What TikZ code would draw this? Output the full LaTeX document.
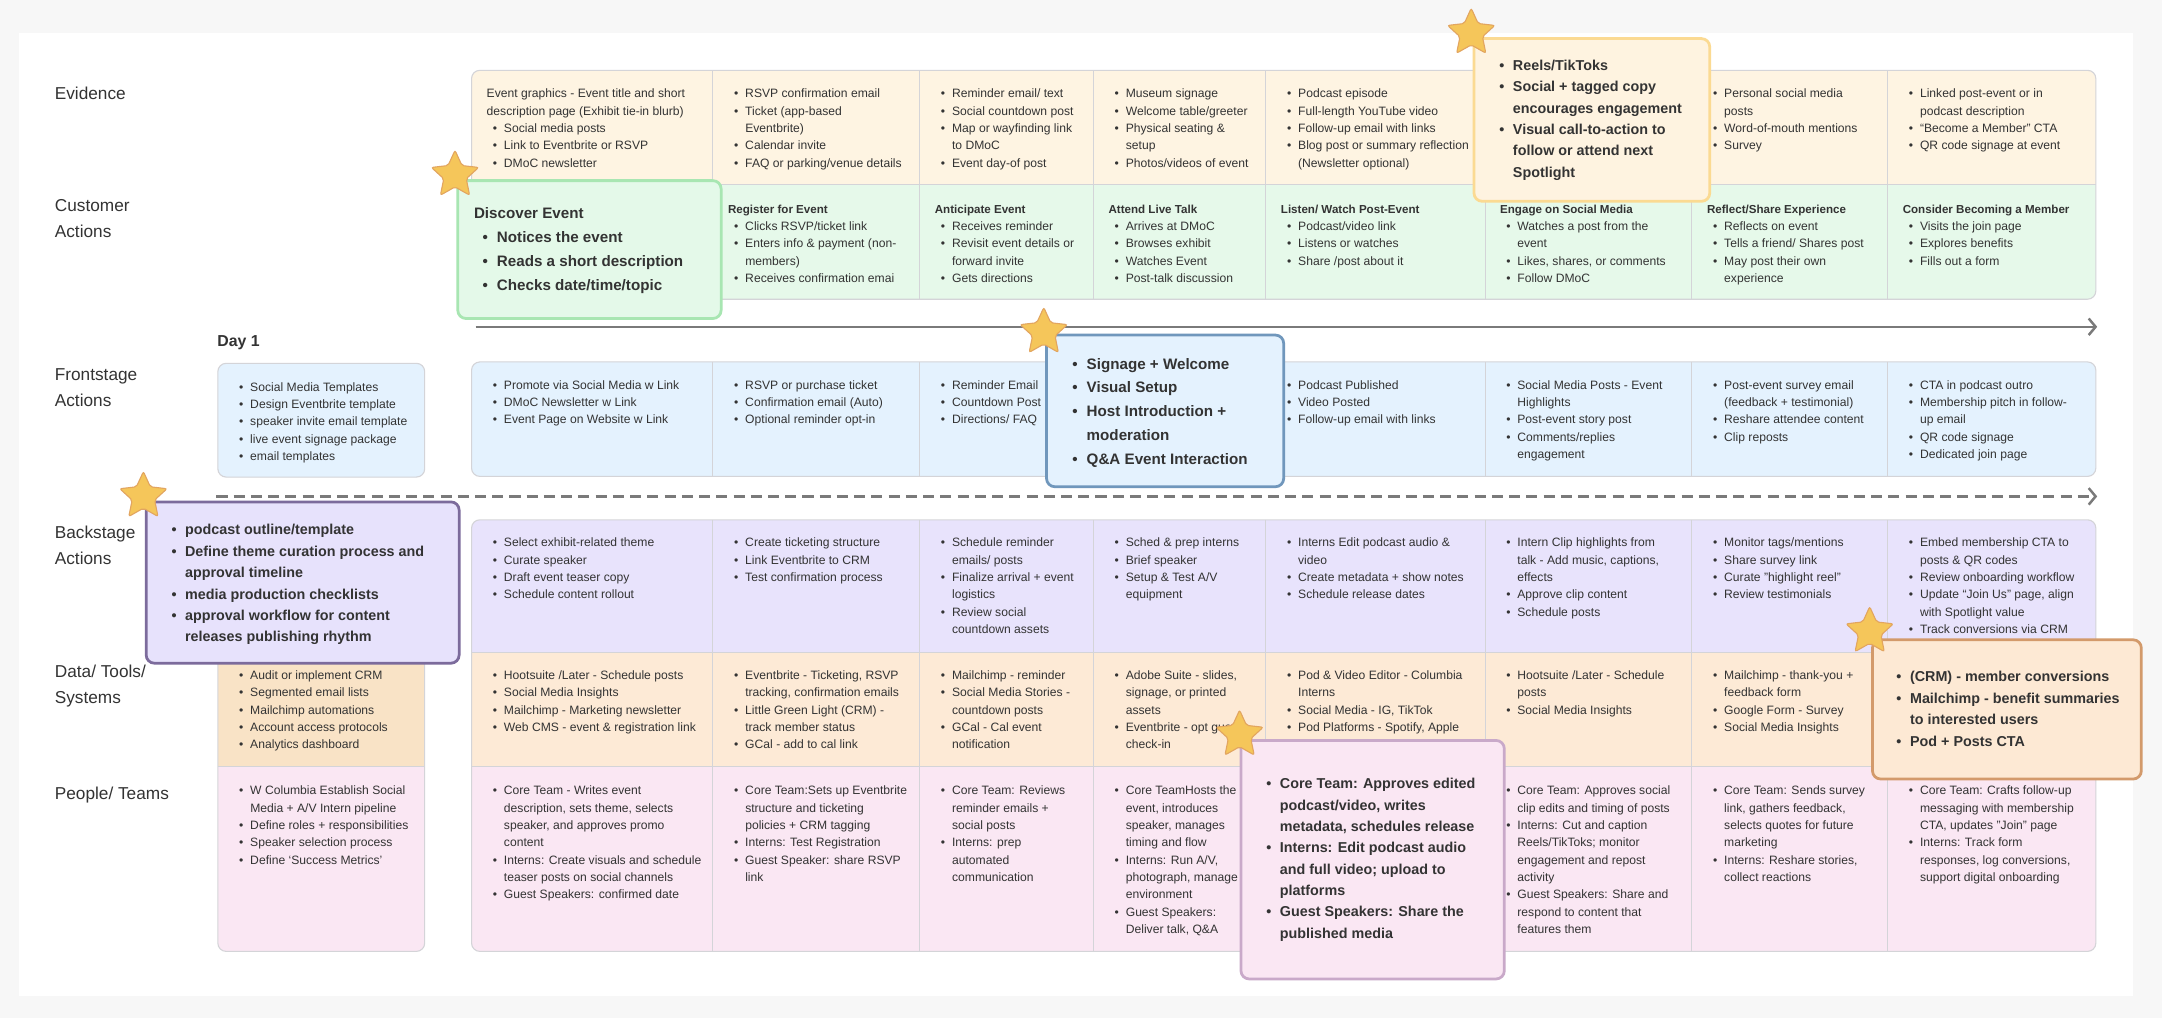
\documentclass[tikz,border=0pt]{standalone}
\usepackage{fontspec}
\setmainfont{Liberation Sans}
\usepackage{tikz}
\usetikzlibrary{arrows.meta,shapes.geometric,positioning}

\definecolor{pagegray}{HTML}{F7F7F7}
\definecolor{ink}{HTML}{333333}
\definecolor{gridline}{HTML}{D4D4D8}
\definecolor{evfill}{HTML}{FEF4E2}
\definecolor{cafill}{HTML}{E6F9EA}
\definecolor{fsfill}{HTML}{E4F2FE}
\definecolor{bsfill}{HTML}{E8E3FC}
\definecolor{dtfill}{HTML}{FDEAD6}
\definecolor{dtdayfill}{HTML}{F9E3C6}
\definecolor{ppfill}{HTML}{FAE7F3}
\definecolor{arrowgray}{HTML}{7A7A7A}
\definecolor{starfill}{HTML}{F5C65A}
\definecolor{starline}{HTML}{E2A560}
\definecolor{discfill}{HTML}{E4F9E9}
\definecolor{discline}{HTML}{A8E6B2}
\definecolor{reelfill}{HTML}{FEF3E0}
\definecolor{reelline}{HTML}{FBDA92}
\definecolor{signfill}{HTML}{E4F2FE}
\definecolor{signline}{HTML}{7097BC}
\definecolor{prepfill}{HTML}{E7E2FC}
\definecolor{prepline}{HTML}{7C6B9C}
\definecolor{teamfill}{HTML}{FAE7F3}
\definecolor{teamline}{HTML}{C9A9C9}
\definecolor{crmfill}{HTML}{FDE9D4}
\definecolor{crmline}{HTML}{D39A6B}

% fonts
\newcommand{\cellfnt}{\fontsize{8.8}{12.57}\selectfont}
\newcommand{\headfnt}{\fontsize{8.4}{12.57}\selectfont\bfseries}
\newcommand{\lblfnt}{\fontsize{12.5}{18.9}\selectfont}
\newcommand{\dayfnt}{\fontsize{11.5}{14}\selectfont\bfseries}
\newcommand{\bigfnt}{\fontsize{11}{17.2}\selectfont\bfseries}
\newcommand{\callfnt}{\fontsize{10.4}{15.5}\selectfont\bfseries}

% bullet lines
\newcommand{\itm}[1]{\strut\hspace*{.5em}\makebox[.92em][l]{\textbullet}#1}
\newcommand{\itc}[1]{\strut\hspace*{1.42em}#1}
\newcommand{\hdl}[1]{\strut{\headfnt #1}}
\newcommand{\citm}[1]{\strut\makebox[.95em][l]{\textbullet}#1}
\newcommand{\citc}[1]{\strut\hspace*{.95em}#1}

\begin{document}
\begin{tikzpicture}[
    x=1pt, y=-1pt,
    cellbox/.style={anchor=north west, inner sep=0pt, align=left, font=\cellfnt, text=ink},
    rowlabel/.style={anchor=north west, inner sep=0pt, align=left, font=\lblfnt, text=ink},
    daylabel/.style={anchor=base west, inner sep=0pt, font=\dayfnt, text=ink},
    gridsep/.style={draw=gridline, line width=0.6pt},
    blockline/.style={draw=gridline, line width=0.8pt, rounded corners=6pt},
    callbox/.style={anchor=north west, inner sep=0pt, line width=2pt, rounded corners=6pt},
    calltext/.style={anchor=north west, inner sep=0pt, align=left, font=\callfnt, text=ink},
    bigtext/.style={calltext, font=\bigfnt},
    staricon/.style={star, star points=5, star point ratio=2.1, minimum size=36pt,
        inner sep=0pt, fill=starfill, draw=starline, line width=0.8pt, rounded corners=1.5pt},
    timeline/.style={draw=arrowgray, line width=1.8pt, -{Straight Barb[length=5pt,width=12pt]}}
]

% page
\fill[pagegray] (0,0) rectangle (1568,738);
\fill[white] (14,24) rectangle (1547,722);
\useasboundingbox (0,0) rectangle (1568,738);

% row labels
\node[rowlabel] (lab-ev) at (39.6,58.9) {\strut Evidence};
\node[rowlabel] (lab-ca) at (39.6,140) {\strut Customer\\\strut Actions};
\node[rowlabel] (lab-fs) at (39.6,262.7) {\strut Frontstage\\\strut Actions};
\node[rowlabel] (lab-bs) at (39.6,377.2) {\strut Backstage\\\strut Actions};
\node[rowlabel] (lab-dt) at (39.6,478) {\strut Data/ Tools/\\\strut Systems};
\node[rowlabel] (lab-pp) at (39.6,566.5) {\strut People/ Teams};

% evidence + customer block
\begin{scope}
\clip[rounded corners=6pt] (342,51) rectangle (1520,217);
\fill[evfill] (342,51) rectangle (1520,134);
\fill[cafill] (342,134) rectangle (1520,217);
\end{scope}
\foreach \x in {517,667,793,918,1077,1227,1369}
  \draw[gridsep] (\x,51) -- (\x,217);
\draw[gridsep] (342,134) -- (1520,134);
\draw[blockline] (342,51) rectangle (1520,217);

% frontstage block
\fill[fsfill, rounded corners=6pt] (342,262.5) rectangle (1520,345.5);
\foreach \x in {517,667,793,918,1077,1227,1369}
  \draw[gridsep] (\x,262.5) -- (\x,345.5);
\draw[blockline] (342,262.5) rectangle (1520,345.5);
\filldraw[fill=fsfill, blockline] (158,263.5) rectangle (308,346);

% backstage / data / people block
\begin{scope}
\clip[rounded corners=6pt] (342,377) rectangle (1520,690);
\fill[bsfill] (342,377) rectangle (1520,473);
\fill[dtfill] (342,473) rectangle (1520,556);
\fill[ppfill] (342,556) rectangle (1520,690);
\end{scope}
\foreach \x in {517,667,793,918,1077,1227,1369}
  \draw[gridsep] (\x,377) -- (\x,690);
\draw[gridsep] (342,473) -- (1520,473);
\draw[gridsep] (342,556) -- (1520,556);
\draw[blockline] (342,377) rectangle (1520,690);

% day 1 column
\begin{scope}
\clip[rounded corners=6pt] (158,377) rectangle (308,690);
\fill[bsfill] (158,377) rectangle (308,473);
\fill[dtdayfill] (158,473) rectangle (308,556);
\fill[ppfill] (158,556) rectangle (308,690);
\end{scope}
\draw[gridsep] (158,556) -- (308,556);
\draw[blockline] (158,377) rectangle (308,690);

% Evidence
\node[cellbox] (ev1) at (352.8,62) {\strut Event graphics - Event title and short\\\strut description page (Exhibit tie-in blurb)\\\itm{Social media posts}\\\itm{Link to Eventbrite or RSVP}\\\itm{DMoC newsletter}};
\node[cellbox] (ev2) at (527.8,62) {\itm{RSVP confirmation email}\\\itm{Ticket (app-based}\\\itc{Eventbrite)}\\\itm{Calendar invite}\\\itm{FAQ or parking/venue details}};
\node[cellbox] (ev3) at (677.8,62) {\itm{Reminder email/ text}\\\itm{Social countdown post}\\\itm{Map or wayfinding link}\\\itc{to DMoC}\\\itm{Event day-of post}};
\node[cellbox] (ev4) at (803.8,62) {\itm{Museum signage}\\\itm{Welcome table/greeter}\\\itm{Physical seating \&}\\\itc{setup}\\\itm{Photos/videos of event}};
\node[cellbox] (ev5) at (928.8,62) {\itm{Podcast episode}\\\itm{Full-length YouTube video}\\\itm{Follow-up email with links}\\\itm{Blog post or summary reflection}\\\itc{(Newsletter optional)}};
\node[cellbox] (ev7) at (1237.8,62) {\itm{Personal social media}\\\itc{posts}\\\itm{Word-of-mouth mentions}\\\itm{Survey}};
\node[cellbox] (ev8) at (1379.8,62) {\itm{Linked post-event or in}\\\itc{podcast description}\\\itm{“Become a Member” CTA}\\\itm{QR code signage at event}};

% Customer actions
\node[cellbox] (ca2) at (527.8,145.6) {\hdl{Register for Event}\\\itm{Clicks RSVP/ticket link}\\\itm{Enters info \& payment (non-}\\\itc{members)}\\\itm{Receives confirmation emai}};
\node[cellbox] (ca3) at (677.8,145.6) {\hdl{Anticipate Event}\\\itm{Receives reminder}\\\itm{Revisit event details or}\\\itc{forward invite}\\\itm{Gets directions}};
\node[cellbox] (ca4) at (803.8,145.6) {\hdl{Attend Live Talk}\\\itm{Arrives at DMoC}\\\itm{Browses exhibit}\\\itm{Watches Event}\\\itm{Post-talk discussion}};
\node[cellbox] (ca5) at (928.8,145.6) {\hdl{Listen/ Watch Post-Event}\\\itm{Podcast/video link}\\\itm{Listens or watches}\\\itm{Share /post about it}};
\node[cellbox] (ca6) at (1087.8,145.6) {\hdl{Engage on Social Media}\\\itm{Watches a post from the}\\\itc{event}\\\itm{Likes, shares, or comments}\\\itm{Follow DMoC}};
\node[cellbox] (ca7) at (1237.8,145.6) {\hdl{Reflect/Share Experience}\\\itm{Reflects on event}\\\itm{Tells a friend/ Shares post}\\\itm{May post their own}\\\itc{experience}};
\node[cellbox] (ca8) at (1379.8,145.6) {\hdl{Consider Becoming a Member}\\\itm{Visits the join page}\\\itm{Explores benefits}\\\itm{Fills out a form}};

% timeline
\coordinate (now0) at (345,237);
\coordinate (now1) at (1521,237);
\draw[timeline] (now0) -- (now1);
\node[daylabel] (day1) at (157.5,251) {Day 1};

% Frontstage
\node[cellbox] (fs0) at (168.8,274.6) {\itm{Social Media Templates}\\\itm{Design Eventbrite template}\\\itm{speaker invite email template}\\\itm{live event signage package}\\\itm{email templates}};
\node[cellbox] (fs1) at (352.8,273.2) {\itm{Promote via Social Media w Link}\\\itm{DMoC Newsletter w Link}\\\itm{Event Page on Website w Link}};
\node[cellbox] (fs2) at (527.8,273.2) {\itm{RSVP or purchase ticket}\\\itm{Confirmation email (Auto)}\\\itm{Optional reminder opt-in}};
\node[cellbox] (fs3) at (677.8,273.2) {\itm{Reminder Email}\\\itm{Countdown Post}\\\itm{Directions/ FAQ}};
\node[cellbox] (fs5) at (928.8,273.2) {\itm{Podcast Published}\\\itm{Video Posted}\\\itm{Follow-up email with links}};
\node[cellbox] (fs6) at (1087.8,273.2) {\itm{Social Media Posts - Event}\\\itc{Highlights}\\\itm{Post-event story post}\\\itm{Comments/replies}\\\itc{engagement}};
\node[cellbox] (fs7) at (1237.8,273.2) {\itm{Post-event survey email}\\\itc{(feedback + testimonial)}\\\itm{Reshare attendee content}\\\itm{Clip reposts}};
\node[cellbox] (fs8) at (1379.8,273.2) {\itm{CTA in podcast outro}\\\itm{Membership pitch in follow-}\\\itc{up email}\\\itm{QR code signage}\\\itm{Dedicated join page}};

% line of visibility
\coordinate (vis0) at (157,360);
\coordinate (vis1) at (1521,360);
\draw[timeline, dash pattern=on 8pt off 4.5pt] (vis0) -- (vis1);

% Backstage
\node[cellbox] (bs1) at (352.8,387.5) {\itm{Select exhibit-related theme}\\\itm{Curate speaker}\\\itm{Draft event teaser copy}\\\itm{Schedule content rollout}};
\node[cellbox] (bs2) at (527.8,387.5) {\itm{Create ticketing structure}\\\itm{Link Eventbrite to CRM}\\\itm{Test confirmation process}};
\node[cellbox] (bs3) at (677.8,387.5) {\itm{Schedule reminder}\\\itc{emails/ posts}\\\itm{Finalize arrival + event}\\\itc{logistics}\\\itm{Review social}\\\itc{countdown assets}};
\node[cellbox] (bs4) at (803.8,387.5) {\itm{Sched \& prep interns}\\\itm{Brief speaker}\\\itm{Setup \& Test A/V}\\\itc{equipment}};
\node[cellbox] (bs5) at (928.8,387.5) {\itm{Interns Edit podcast audio \&}\\\itc{video}\\\itm{Create metadata + show notes}\\\itm{Schedule release dates}};
\node[cellbox] (bs6) at (1087.8,387.5) {\itm{Intern Clip highlights from}\\\itc{talk - Add music, captions,}\\\itc{effects}\\\itm{Approve clip content}\\\itm{Schedule posts}};
\node[cellbox] (bs7) at (1237.8,387.5) {\itm{Monitor tags/mentions}\\\itm{Share survey link}\\\itm{Curate "highlight reel"}\\\itm{Review testimonials}};
\node[cellbox] (bs8) at (1379.8,387.5) {\itm{Embed membership CTA to}\\\itc{posts \& QR codes}\\\itm{Review onboarding workflow}\\\itm{Update “Join Us” page, align}\\\itc{with Spotlight value}\\\itm{Track conversions via CRM}};

% Data / Tools / Systems
\node[cellbox] (dt0) at (168.8,483.7) {\itm{Audit or implement CRM}\\\itm{Segmented email lists}\\\itm{Mailchimp automations}\\\itm{Account access protocols}\\\itm{Analytics dashboard}};
\node[cellbox] (dt1) at (352.8,483.7) {\itm{Hootsuite /Later - Schedule posts}\\\itm{Social Media Insights}\\\itm{Mailchimp - Marketing newsletter}\\\itm{Web CMS - event \& registration link}};
\node[cellbox] (dt2) at (527.8,483.7) {\itm{Eventbrite - Ticketing, RSVP}\\\itc{tracking, confirmation emails}\\\itm{Little Green Light (CRM) -}\\\itc{track member status}\\\itm{GCal - add to cal link}};
\node[cellbox] (dt3) at (677.8,483.7) {\itm{Mailchimp - reminder}\\\itm{Social Media Stories -}\\\itc{countdown posts}\\\itm{GCal - Cal event}\\\itc{notification}};
\node[cellbox] (dt4) at (803.8,483.7) {\itm{Adobe Suite - slides,}\\\itc{signage, or printed}\\\itc{assets}\\\itm{Eventbrite - opt guest}\\\itc{check-in}};
\node[cellbox] (dt5) at (928.8,483.7) {\itm{Pod \& Video Editor - Columbia}\\\itc{Interns}\\\itm{Social Media - IG, TikTok}\\\itm{Pod Platforms - Spotify, Apple}};
\node[cellbox] (dt6) at (1087.8,483.7) {\itm{Hootsuite /Later - Schedule}\\\itc{posts}\\\itm{Social Media Insights}};
\node[cellbox] (dt7) at (1237.8,483.7) {\itm{Mailchimp - thank-you +}\\\itc{feedback form}\\\itm{Google Form - Survey}\\\itm{Social Media Insights}};

% People / Teams
\node[cellbox] (pp0) at (168.8,567.4) {\itm{W Columbia Establish Social}\\\itc{Media + A/V Intern pipeline}\\\itm{Define roles + responsibilities}\\\itm{Speaker selection process}\\\itm{Define ‘Success Metrics’}};
\node[cellbox] (pp1) at (352.8,567.4) {\itm{Core Team - Writes event}\\\itc{description, sets theme, selects}\\\itc{speaker, and approves promo}\\\itc{content}\\\itm{Interns: Create visuals and schedule}\\\itc{teaser posts on social channels}\\\itm{Guest Speakers: confirmed date}};
\node[cellbox] (pp2) at (527.8,567.4) {\itm{Core Team:Sets up Eventbrite}\\\itc{structure and ticketing}\\\itc{policies + CRM tagging}\\\itm{Interns: Test Registration}\\\itm{Guest Speaker: share RSVP}\\\itc{link}};
\node[cellbox] (pp3) at (677.8,567.4) {\itm{Core Team: Reviews}\\\itc{reminder emails +}\\\itc{social posts}\\\itm{Interns: prep}\\\itc{automated}\\\itc{communication}};
\node[cellbox] (pp4) at (803.8,567.4) {\itm{Core TeamHosts the}\\\itc{event, introduces}\\\itc{speaker, manages}\\\itc{timing and flow}\\\itm{Interns: Run A/V,}\\\itc{photograph, manage}\\\itc{environment}\\\itm{Guest Speakers:}\\\itc{Deliver talk, Q\&A}};
\node[cellbox] (pp6) at (1087.8,567.4) {\itm{Core Team: Approves social}\\\itc{clip edits and timing of posts}\\\itm{Interns: Cut and caption}\\\itc{Reels/TikToks; monitor}\\\itc{engagement and repost}\\\itc{activity}\\\itm{Guest Speakers: Share and}\\\itc{respond to content that}\\\itc{features them}};
\node[cellbox] (pp7) at (1237.8,567.4) {\itm{Core Team: Sends survey}\\\itc{link, gathers feedback,}\\\itc{selects quotes for future}\\\itc{marketing}\\\itm{Interns: Reshare stories,}\\\itc{collect reactions}};
\node[cellbox] (pp8) at (1379.8,567.4) {\itm{Core Team: Crafts follow-up}\\\itc{messaging with membership}\\\itc{CTA, updates "Join" page}\\\itm{Interns: Track form}\\\itc{responses, log conversions,}\\\itc{support digital onboarding}};

% highlighted callouts
\node[callbox, draw=discline, fill=discfill, minimum width=191pt, minimum height=100pt] (discbox) at (331,130) {};
\node[bigtext] (disctxt) at (343.6,146.5) {\strut Discover Event\\\hspace*{6.2pt}\citm{Notices the event}\\\hspace*{6.2pt}\citm{Reads a short description}\\\hspace*{6.2pt}\citm{Checks date/time/topic}};
\node[staricon] (discstar) at (330,127) {};

\node[callbox, draw=reelline, fill=reelfill, minimum width=171pt, minimum height=118pt] (reelbox) at (1068,27) {};
\node[calltext] (reeltxt) at (1087.2,40) {\citm{Reels/TikToks}\\\citm{Social + tagged copy}\\\citc{encourages engagement}\\\citm{Visual call-to-action to}\\\citc{follow or attend next}\\\citc{Spotlight}};
\node[staricon] (reelstar) at (1067,24) {};

\node[callbox, draw=signline, fill=signfill, minimum width=172pt, minimum height=110pt] (signbox) at (758,242) {};
\node[bigtext] (signtxt) at (777.5,255.5) {\citm{Signage + Welcome}\\\citm{Visual Setup}\\\citm{Host Introduction +}\\\citc{moderation}\\\citm{Q\&A Event Interaction}};
\node[staricon] (signstar) at (757,241) {};

\node[callbox, draw=prepline, fill=prepfill, minimum width=227pt, minimum height=117pt] (prepbox) at (105,363) {};
\node[calltext] (preptxt) at (124.2,376.9) {\citm{podcast outline/template}\\\citm{Define theme curation process and}\\\citc{approval timeline}\\\citm{media production checklists}\\\citm{approval workflow for content}\\\citc{releases publishing rhythm}};
\node[staricon] (prepstar) at (104,360) {};

\node[callbox, draw=teamline, fill=teamfill, minimum width=191pt, minimum height=173pt] (teambox) at (899,536) {};
\node[calltext] (teamtxt) at (918.2,561) {\citm{Core Team: Approves edited}\\\citc{podcast/video, writes}\\\citc{metadata, schedules release}\\\citm{Interns: Edit podcast audio}\\\citc{and full video; upload to}\\\citc{platforms}\\\citm{Guest Speakers: Share the}\\\citc{published media}};
\node[staricon] (teamstar) at (899,533) {};

\node[callbox, draw=crmline, fill=crmfill, minimum width=195pt, minimum height=101pt] (crmbox) at (1357,463) {};
\node[calltext] (crmtxt) at (1375.2,483.5) {\citm{(CRM) - member conversions}\\\citm{Mailchimp - benefit summaries}\\\citc{to interested users}\\\citm{Pod + Posts CTA}};
\node[staricon] (crmstar) at (1356,458) {};

\end{tikzpicture}
\end{document}
